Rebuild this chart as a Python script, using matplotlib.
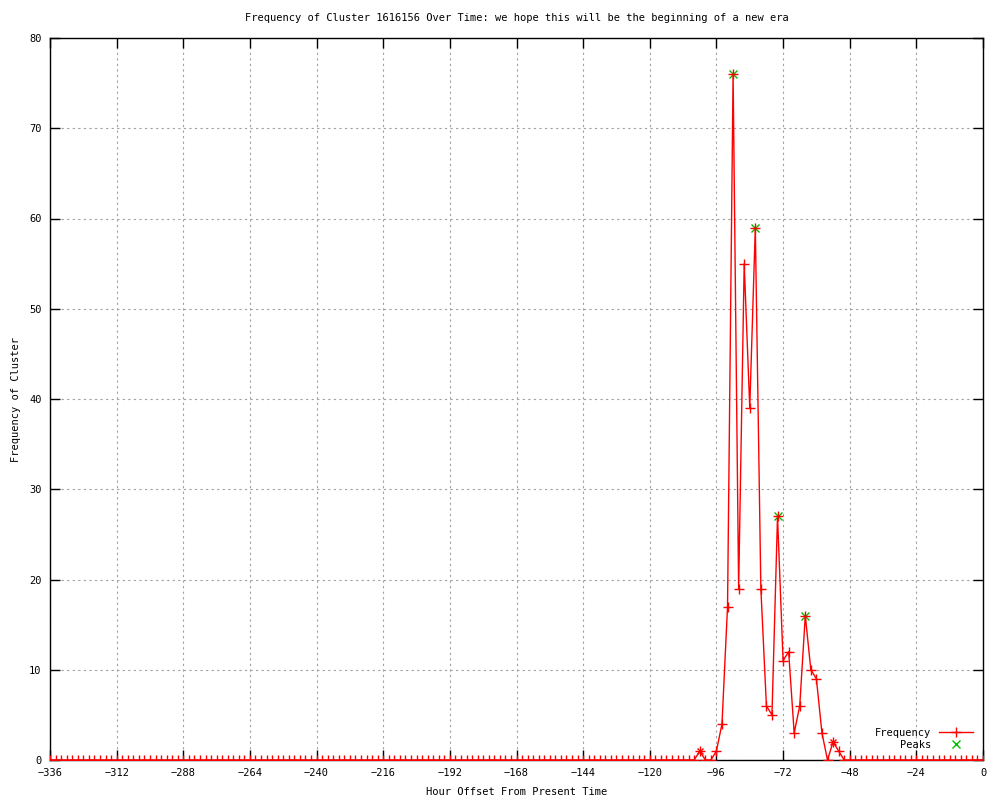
import matplotlib
matplotlib.use('Agg')
import matplotlib.pyplot as plt
from matplotlib.lines import Line2D

# hourly offsets sampled every 2 hours
hours = list(range(-336, 1, 2))

# non-zero (and nearby) frequency values
active_hours = [-102, -100, -98, -96, -94, -92, -90, -88, -86, -84, -82, -80, -78,
                -76, -74, -72, -70, -68, -66, -64, -62, -60, -58, -56, -54, -52, -50]
active_freq = [1, 0, 0, 1, 4, 17, 76, 19, 55, 39, 59, 19, 6,
               5, 27, 11, 12, 3, 6, 16, 10, 9, 3, 0, 2, 1, 0]

peak_hours = [-90, -82, -74, -64]
peak_freq = [76, 59, 27, 16]
minor_peak_hours = [-102, -54]
minor_peak_freq = [1, 2]

x_ticks = list(range(-336, 1, 24))
y_ticks = list(range(0, 81, 10))


def _frequency():
    lookup = dict(zip(active_hours, active_freq))
    return [lookup.get(h, 0) for h in hours]


def _main():
    plt.rcParams['font.family'] = 'DejaVu Sans Mono'
    plt.rcParams['font.size'] = 7.5

    fig = plt.figure(figsize=(10, 8), dpi=100)
    ax = fig.add_axes([0.050, 0.050, 0.933, 0.9025])

    freq = _frequency()
    ax.plot(hours, freq, color='red', linewidth=1.0, marker='+',
            markersize=7, markeredgewidth=1.0, zorder=3)
    ax.plot(minor_peak_hours, minor_peak_freq, linestyle='none', marker='x',
            color='red', markersize=5, markeredgewidth=1.0, zorder=4)
    ax.plot(peak_hours, peak_freq, linestyle='none', marker='x',
            color='#00bb00', markersize=6, markeredgewidth=1.0, zorder=2)

    ax.set_xlim(-336, 0)
    ax.set_ylim(0, 80)
    ax.set_xticks(x_ticks)
    ax.set_yticks(y_ticks)
    ax.tick_params(direction='in', length=7, width=1, top=True, right=True,
                   labelsize=7.5, pad=6)
    ax.grid(True, color='#a0a0a0', linestyle=(0, (2, 3)), linewidth=0.8)
    for spine in ax.spines.values():
        spine.set_linewidth(1.0)

    ax.set_title('Frequency of Cluster 1616156 Over Time: we hope this will be the beginning of a new era',
                 fontsize=7.5, pad=12)
    ax.set_xlabel('Hour Offset From Present Time', labelpad=6)
    ax.set_ylabel('Frequency of Cluster', labelpad=6)

    handles = [
        Line2D([], [], color='red', linewidth=1.0, marker='+', markersize=7,
               markevery=[1], label='Frequency'),
        Line2D([], [], color='#00bb00', linestyle='none', marker='x',
               markersize=6, label='Peaks'),
    ]
    handles[0].set_data([0, 1, 2], [0, 0, 0])
    ax.legend(handles=handles, loc='lower right', frameon=False,
              markerfirst=False, handlelength=3.2, handletextpad=0.8,
              labelspacing=0.2, borderaxespad=0.6, fontsize=7.5)

    fig.savefig('out.png', dpi=100)


if __name__ == '__main__':
    _main()
